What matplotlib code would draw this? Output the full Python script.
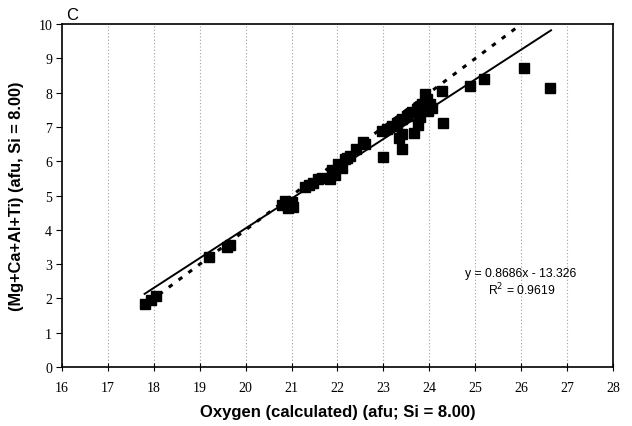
import matplotlib
matplotlib.use("Agg")
import matplotlib.pyplot as plt

# Data
oxygen = [17.81, 17.93, 18.05, 19.20, 19.59, 19.66,
          20.79, 20.86, 20.93, 20.93, 21.00, 21.04,
          21.29, 21.38, 21.47, 21.58, 21.66, 21.84, 21.88, 21.95,
          22.02, 22.09, 22.17, 22.20, 22.27, 22.40, 22.56, 22.60,
          22.97, 23.00, 23.07, 23.18, 23.29, 23.33, 23.40, 23.40, 23.40,
          23.51, 23.62, 23.66, 23.73, 23.75, 23.80, 23.84, 23.91, 23.94,
          23.98, 24.02, 24.05, 24.27, 24.29, 24.89, 25.20, 26.07, 26.63]
cations = [1.84, 1.95, 2.06, 3.22, 3.51, 3.55,
           4.72, 4.85, 4.75, 4.65, 4.80, 4.66,
           5.25, 5.32, 5.38, 5.48, 5.50, 5.48, 5.75, 5.60,
           5.92, 5.82, 6.06, 6.10, 6.16, 6.35, 6.55, 6.50,
           6.89, 6.13, 6.94, 7.04, 7.13, 6.69, 7.23, 6.36, 6.79,
           7.33, 7.43, 6.84, 7.52, 7.05, 7.30, 7.67, 7.96, 7.81,
           7.47, 7.67, 7.55, 8.04, 7.13, 8.20, 8.40, 8.71, 8.13]

fit_slope = 0.8686
fit_intercept = -13.326
fit_range = [17.8, 26.65]

ref_x = [17.9, 25.9]
ref_y = [1.9, 9.9]

x_ticks = list(range(16, 29))
y_ticks = list(range(0, 11))

fig = plt.figure(figsize=(6.32, 4.27), dpi=100)
ax = fig.add_axes([0.098, 0.138, 0.872, 0.803])

for xv in x_ticks[1:-1]:
    ax.axvline(xv, color="#a0a0a0", linestyle=(0, (1, 2)), linewidth=0.8, zorder=0)

fit_y = [fit_slope * v + fit_intercept for v in fit_range]
ax.plot(fit_range, fit_y, color="black", linewidth=1.4, zorder=2)
ax.plot(ref_x, ref_y, color="black", linewidth=2.2, linestyle=(0, (1.5, 2.5)), zorder=2)
ax.plot(oxygen, cations, linestyle="none", marker="s", markersize=7.8,
        color="black", zorder=3)

ax.set_xlim(16, 28)
ax.set_ylim(0, 10)
ax.set_xticks(x_ticks)
ax.set_yticks(y_ticks)
serif = ["Liberation Serif", "DejaVu Serif"]
ax.set_xticklabels([str(v) for v in x_ticks], family=serif, fontsize=10)
ax.set_yticklabels([str(v) for v in y_ticks], family=serif, fontsize=10)
ax.tick_params(axis="x", direction="inout", length=6, width=0.8, pad=7)
ax.tick_params(axis="y", direction="out", length=4, width=0.8, pad=3)
for s in ax.spines.values():
    s.set_linewidth(1.2)
    s.set_color("black")

sans = ["Liberation Sans", "DejaVu Sans"]
ax.set_xlabel("Oxygen (calculated) (afu; Si = 8.00)", family=sans,
              fontweight="bold", fontsize=12, labelpad=7)
ax.set_ylabel("(Mg+Ca+Al+Ti) (afu, Si = 8.00)", family=sans,
              fontweight="bold", fontsize=11.8, labelpad=10)

ax.text(16.1, 10.05, "C", family=sans, fontsize=12, ha="left", va="bottom")
ax.text(25.98, 2.75, "y = 0.8686x - 13.326", family=sans, fontsize=8.8,
        ha="center", va="center")
ax.text(26.02, 2.27, "R$^2$ = 0.9619", family=sans, fontsize=8.8,
        ha="center", va="center")

fig.savefig("out.png", dpi=100)
